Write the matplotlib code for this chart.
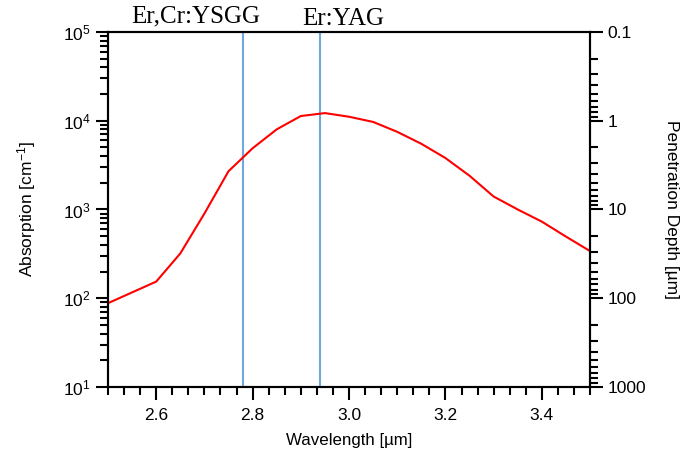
import numpy as np
import matplotlib
matplotlib.use("Agg")
import matplotlib.pyplot as plt
from matplotlib.ticker import MultipleLocator, FuncFormatter, LogLocator

plt.rcParams['font.family'] = ['Liberation Sans', 'DejaVu Sans']
plt.rcParams['mathtext.default'] = 'regular'

# absorption of water vs wavelength
wavelength = [2.50, 2.60, 2.65, 2.70, 2.75, 2.80, 2.85, 2.90, 2.95, 3.00, 3.05,
              3.10, 3.15, 3.20, 3.25, 3.30, 3.35, 3.40, 3.45, 3.50]
absorption = [88, 154, 320, 900, 2700, 4900, 8000, 11300, 12200, 11100, 9700,
              7500, 5500, 3800, 2400, 1400, 1000, 730, 495, 340]

laser_lines = [2.78, 2.94]
laser_names = ['Er,Cr:YSGG', 'Er:YAG']
name_x = [2.683, 2.988]
name_y = [1.026, 1.020]

fig = plt.figure(figsize=(6.95, 4.54), dpi=100)
ax = fig.add_axes([0.1554, 0.1476, 0.6936, 0.7819])

ax.plot(wavelength, absorption, color='red', lw=1.5, zorder=3)
for xl in laser_lines:
    ax.axvline(xl, color='#6fa8dc', lw=1.5, zorder=2)

ax.set_xlim(2.5, 3.5)
ax.set_yscale('log')
ax.set_ylim(10, 1e5)
ax.xaxis.set_major_locator(MultipleLocator(0.2))
ax.xaxis.set_minor_locator(MultipleLocator(0.2 / 6))
ax.xaxis.set_major_formatter(FuncFormatter(lambda v, p: f'{v:.1f}'))
ax.yaxis.set_minor_locator(LogLocator(base=10, subs=np.arange(2, 10)))

ax.set_xlabel('Wavelength [µm]', fontsize=12.2, labelpad=7)
ax.set_ylabel('Absorption [cm$^{-1}$]', fontsize=12.5, labelpad=18)

ax2 = ax.twinx()
ax2.set_yscale('log')
ax2.set_ylim(1000, 0.1)
ax2.yaxis.set_major_formatter(FuncFormatter(lambda v, p: f'{v:g}'))
ax2.yaxis.set_minor_locator(LogLocator(base=10, subs=np.arange(2, 10)))
ax2.set_ylabel('Penetration Depth [µm]', fontsize=12.5, rotation=-90, labelpad=24)

for a in (ax, ax2):
    for s in a.spines.values():
        s.set_linewidth(1.5)
    a.tick_params(which='major', length=9, width=1.5, labelsize=12.5)
    a.tick_params(which='minor', length=5.5, width=1.5)
ax.tick_params(axis='y', which='both', right=False)
ax.tick_params(axis='x', which='major', pad=6)

for name, nx, ny in zip(laser_names, name_x, name_y):
    ax.text(nx, ny, name, transform=ax.get_xaxis_transform(), ha='center',
            va='baseline', fontsize=18, family='Liberation Serif')

fig.savefig('out.png', dpi=100)
